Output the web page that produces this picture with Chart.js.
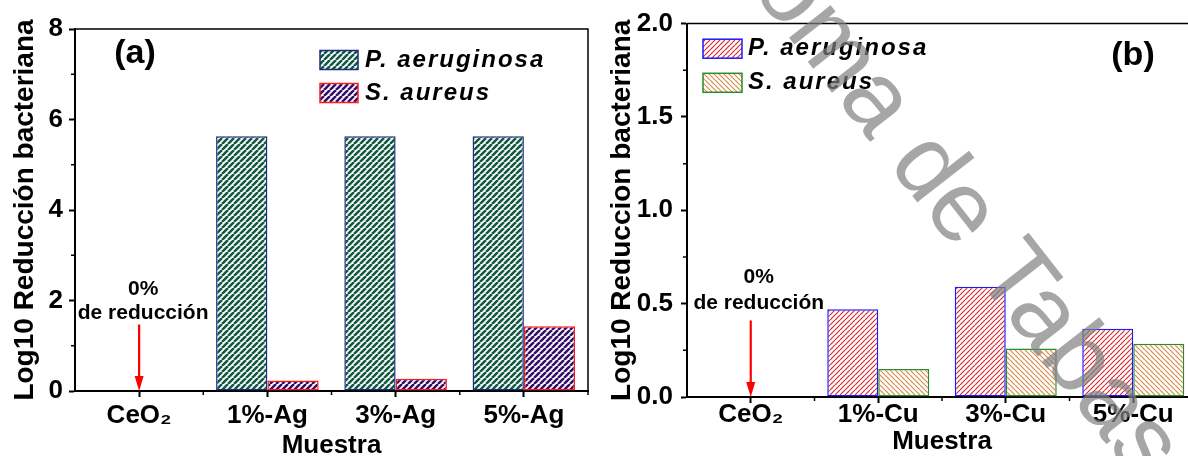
<!DOCTYPE html>
<html>
<head>
<meta charset="utf-8">
<script src="https://cdn.jsdelivr.net/npm/chart.js@4.4.1/dist/chart.umd.min.js"></script>
<style>
  html, body { margin: 0; padding: 0; background: #fff; overflow: hidden; width: 1188px; height: 456px; }
  #ca { position: absolute; left: 0; top: 0; }
  #cb { position: absolute; left: 600px; top: 0; }
</style>
</head>
<body>
<canvas id="ca" width="600" height="470"></canvas>
<canvas id="cb" width="600" height="470"></canvas>
<script>
// panel (a): Ag
const samplesA = ['CeO₂', '1%-Ag', '3%-Ag', '5%-Ag'];
const paeruginosaA = [0, 5.63, 5.63, 5.63];
const saureusA = [0, 0.23, 0.27, 1.43];
const yTicksA = [0, 2, 4, 6, 8];
const yLabelsA = ['0', '2', '4', '6', '8'];
const yMinorA = [1, 3, 5, 7];

// panel (b): Cu
const samplesB = ['CeO₂', '1%-Cu', '3%-Cu', '5%-Cu'];
const paeruginosaB = [0, 0.47, 0.59, 0.365];
const saureusB = [0, 0.15, 0.26, 0.285];
const yTicksB = [0, 0.5, 1, 1.5, 2];
const yLabelsB = ['0.0', '0.5', '1.0', '1.5', '2.0'];
const yMinorB = [0.25, 0.75, 1.25, 1.75];

const seriesNames = ['P. aeruginosa', 'S. aureus'];

const FONT = '"Liberation Sans", Arial, Helvetica, sans-serif';
Chart.defaults.font.family = FONT;
Chart.defaults.color = '#000';

function hatch(ctx, fg, lw, size, back) {
  const c = document.createElement('canvas');
  c.width = c.height = size;
  const g = c.getContext('2d');
  g.fillStyle = '#fff';
  g.fillRect(0, 0, size, size);
  g.strokeStyle = fg;
  g.lineWidth = lw;
  g.beginPath();
  for (const o of [-size, 0, size]) {
    if (back) { g.moveTo(o, 0); g.lineTo(o + size, size); }
    else { g.moveTo(o, size); g.lineTo(o + size, 0); }
  }
  g.stroke();
  return ctx.createPattern(c, 'repeat');
}

const decor = {
  id: 'decor',
  afterDraw(chart, args, o) {
    const { ctx, chartArea: a } = chart;
    const x = chart.scales.x, y = chart.scales.y;
    ctx.save();
    // box top + right
    ctx.strokeStyle = '#000';
    ctx.lineWidth = 1.5;
    ctx.beginPath();
    ctx.moveTo(a.left, a.top);
    ctx.lineTo(a.right, a.top);
    ctx.lineTo(a.right, a.bottom);
    ctx.stroke();

    // minor ticks
    ctx.beginPath();
    o.minorY.forEach(v => {
      const py = y.getPixelForValue(v);
      ctx.moveTo(a.left - 4, py);
      ctx.lineTo(a.left, py);
    });
    const half = (x.getPixelForValue(1) - x.getPixelForValue(0)) / 2;
    for (let i = 1; i <= x.getLabels().length; i++) {
      const px = x.getPixelForValue(i) - half;
      ctx.moveTo(px, a.bottom);
      ctx.lineTo(px, a.bottom + 4);
    }
    ctx.stroke();

    // "0% de reducción" note with arrow
    const ax = x.getPixelForValue(0);
    ctx.fillStyle = '#000';
    ctx.font = 'bold 21px ' + FONT;
    ctx.textAlign = 'center';
    ctx.textBaseline = 'middle';
    ctx.fillText('0%', ax + o.note.dx, y.getPixelForValue(o.note.y1));
    ctx.fillText('de reducción', ax + o.note.dx, y.getPixelForValue(o.note.y2));
    const top = y.getPixelForValue(o.note.y3), bot = y.getPixelForValue(0);
    ctx.strokeStyle = '#ff0000';
    ctx.fillStyle = '#ff0000';
    ctx.lineWidth = 2.2;
    ctx.beginPath();
    ctx.moveTo(ax, top);
    ctx.lineTo(ax, bot - 12);
    ctx.stroke();
    ctx.beginPath();
    ctx.moveTo(ax - 4.5, bot - 15);
    ctx.lineTo(ax + 4.5, bot - 15);
    ctx.lineTo(ax, bot);
    ctx.closePath();
    ctx.fill();

    // legend
    const L = o.legend;
    chart.data.datasets.forEach((ds, i) => {
      const yc = L.y[i];
      ctx.fillStyle = ds.backgroundColor;
      ctx.fillRect(L.x, yc - L.h / 2, L.w, L.h);
      ctx.strokeStyle = ds.borderColor;
      ctx.lineWidth = 1.5;
      ctx.strokeRect(L.x, yc - L.h / 2, L.w, L.h);
      ctx.fillStyle = '#000';
      ctx.font = 'italic bold 24px ' + FONT;
      ctx.letterSpacing = '2px';
      ctx.textAlign = 'left';
      ctx.fillText(ds.label, L.tx, yc);
      ctx.letterSpacing = '0px';
    });

    // panel tag
    ctx.font = 'bold 34px ' + FONT;
    ctx.textAlign = 'center';
    ctx.fillStyle = '#000';
    ctx.fillText(o.tag.text, o.tag.x, o.tag.y);

    // watermark
    if (o.watermark) {
      const w = o.watermark;
      ctx.font = '100px ' + FONT;
      ctx.textAlign = 'left';
      ctx.textBaseline = 'alphabetic';
      ctx.fillStyle = 'rgba(128,128,128,0.7)';
      ctx.translate(w.x, w.y);
      ctx.rotate(w.angle * Math.PI / 180);
      const pre = ctx.measureText(w.before).width;
      ctx.fillText(w.before + w.text, -pre, 0);
    }
    ctx.restore();
  }
};

function makeChart(id, labels, pa, sa, colors, y, x, pad, opts) {
  const canvas = document.getElementById(id);
  const ctx = canvas.getContext('2d');
  return new Chart(ctx, {
    type: 'bar',
    data: {
      labels: labels,
      datasets: [
        { label: seriesNames[0], data: pa, backgroundColor: colors[0], borderColor: colors[1] },
        { label: seriesNames[1], data: sa, backgroundColor: colors[2], borderColor: colors[3] }
      ]
    },
    options: {
      responsive: false,
      animation: false,
      devicePixelRatio: 1,
      layout: { padding: pad },
      datasets: { bar: { categoryPercentage: 0.8, barPercentage: 1.0, borderWidth: 1.5, borderSkipped: false } },
      plugins: { legend: { display: false }, tooltip: { enabled: false }, decor: opts },
      scales: {
        x: {
          type: 'category',
          offset: true,
          afterFit: s => { s.height = x.height; },
          ticks: { color: '#000', font: { size: 26, weight: 'bold', lineHeight: 1 }, padding: x.pad, maxRotation: 0, autoSkip: false },
          grid: { drawOnChartArea: false, offset: false, tickLength: 6, tickWidth: 2, tickColor: '#000' },
          border: { color: '#000', width: 2 },
          title: { display: true, text: 'Muestra', color: '#000', font: { size: 26, weight: 'bold' }, padding: { top: 0, bottom: x.titlePad } }
        },
        y: {
          min: 0,
          max: y.ticks[y.ticks.length - 1],
          afterBuildTicks: s => { s.ticks = y.ticks.map(v => ({ value: v })); },
          afterFit: s => { s.width = y.width; },
          ticks: { callback: (v, i) => y.labels[i], color: '#000', font: { size: 26, weight: 'bold' }, padding: y.pad },
          grid: { drawOnChartArea: false, tickLength: 6, tickWidth: 2, tickColor: '#000' },
          border: { color: '#000', width: 2 },
          title: { display: true, text: y.title, color: '#000', font: { size: 28, weight: 'bold' }, padding: { top: y.titlePad, bottom: 0 } }
        }
      }
    },
    plugins: [decor]
  });
}

const ctxA = document.getElementById('ca').getContext('2d');
makeChart('ca', samplesA, paeruginosaA, saureusA,
  [hatch(ctxA, '#135a43', 2.6, 6, false), '#1c2a80', hatch(ctxA, '#34106a', 2.6, 6, false), '#ff1a1a'],
  { ticks: yTicksA, labels: yLabelsA, width: 75, pad: 6, title: 'Log10 Reducción bacteriana', titlePad: 8 },
  { height: 79, pad: 6, titlePad: 9 },
  { top: 29, right: 12, left: 0, bottom: 0 },
  { minorY: yMinorA, note: { dx: 4, y1: 2.26, y2: 1.71, y3: 1.47 },
    legend: { x: 320, y: [60, 93], w: 38, h: 19, tx: 365 },
    tag: { text: '(a)', x: 135, y: 54 } });

const ctxB = document.getElementById('cb').getContext('2d');
makeChart('cb', samplesB, paeruginosaB, saureusB,
  [hatch(ctxB, '#d8282e', 1.2, 5, false), '#1a1aff', hatch(ctxB, '#d48a48', 1.2, 5, true), '#2b8a2b'],
  { ticks: yTicksB, labels: yLabelsB, width: 87, pad: 8, title: 'Log10 Reduccion bacteriana', titlePad: 5 },
  { height: 73, pad: -1, titlePad: 13 },
  { top: 21, right: 3, left: 0, bottom: 0 },
  { minorY: yMinorB, note: { dx: 8, y1: 0.64, y2: 0.5, y3: 0.41 },
    legend: { x: 103, y: [48.7, 82.8], w: 39, h: 19, tx: 148 },
    tag: { text: '(b)', x: 533, y: 56 },
    watermark: { x: 236, y: 98, angle: 52, before: 'Autónom', text: 'a de Tabasco' } });
</script>
</body>
</html>
